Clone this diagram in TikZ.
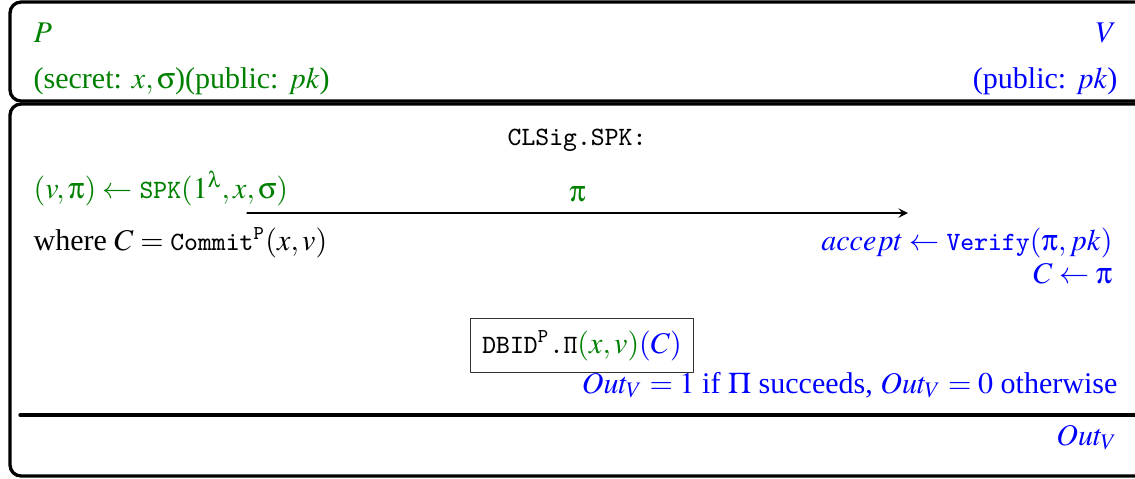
\documentclass[tikz,border=0pt]{standalone}
\usepackage{amsmath}
\usepackage{mathptmx}
\usepackage[no-math]{fontspec}
\setmainfont{Liberation Serif}
\setmonofont{Latin Modern Mono}[Scale=0.88]
\DeclareSymbolFont{upgr}{U}{psy}{m}{n}
\DeclareMathSymbol{\pi}{\mathord}{upgr}{`p}
\DeclareMathSymbol{\sigma}{\mathord}{upgr}{`s}
\DeclareMathSymbol{\lambda}{\mathord}{upgr}{`l}
\definecolor{pgreen}{RGB}{0,128,0}
\font\ttpifont=cmtt10 at 8.8pt
\newcommand{\ttPi}{{\ttpifont\char5}}
\tikzset{
  prv/.style={text=pgreen},
  vrf/.style={text=blue},
  lft/.style={anchor=base west, inner sep=0pt},
  rgt/.style={anchor=base east, inner sep=0pt},
  frame/.style={line width=1.1pt, rounded corners=3.7pt}
}
\begin{document}
\begin{tikzpicture}[>=stealth, x=0.333pt, y=-0.333pt, line join=round, line cap=round]
			\path[use as bounding box, clip] (0,0) rectangle (1135,478);
			\draw[frame] (10,2) rectangle (1160,101);
			\draw[frame] (10,104) rectangle (1160,476);
			\node[lft, prv] (P) at (33,42) {$P$};
			\node[lft, prv] (Psec) at (33,88) {(secret: $x,\sigma$)(public: $pk$)};
			\node[rgt, vrf] (V) at (1117,42) {$V$};
			\node[rgt, vrf] (Vpub) at (1118,88) {(public: $pk$)};
			\node[anchor=base] (title) at (577,145) {\texttt{CLSig.SPK:}};
			\node[lft, prv] (spk) at (33,198) {$(v,\pi)\leftarrow\texttt{SPK}(1^{\lambda},x,\sigma)$};
			\path (247,213) coordinate (S)
			(908,213) coordinate (T);
			\draw[->, thin] (S) -- node[above, prv] {$\pi$} (T);
			\node[lft] (where) at (33,250) {where $C=\texttt{Commit}^{\texttt{P}}(x,v)$};
			\node[rgt, vrf] (acc) at (1113,250) {$accept\leftarrow\texttt{Verify}(\pi,pk)$};
			\node[rgt, vrf] (Cpi) at (1113,283) {$C\leftarrow\pi$};
			\node[draw=black!80, thin, anchor=base, inner sep=4pt] (dbid) at (582,353) {\texttt{DBID}$^{\texttt{P}}$\texttt{.}\ttPi\textcolor{pgreen}{$(x,v)$}\textcolor{blue}{$(C)$}};
			\node[rgt, vrf] (out) at (1118,393) {$Out_V=1$ if $\Pi$ succeeds, $Out_V=0$ otherwise};
			\draw[line width=1.1pt] (20,415) -- (1160,415);
			\node[rgt, vrf] (outV) at (1118,445) {$Out_V$};
		\end{tikzpicture}
\end{document}
